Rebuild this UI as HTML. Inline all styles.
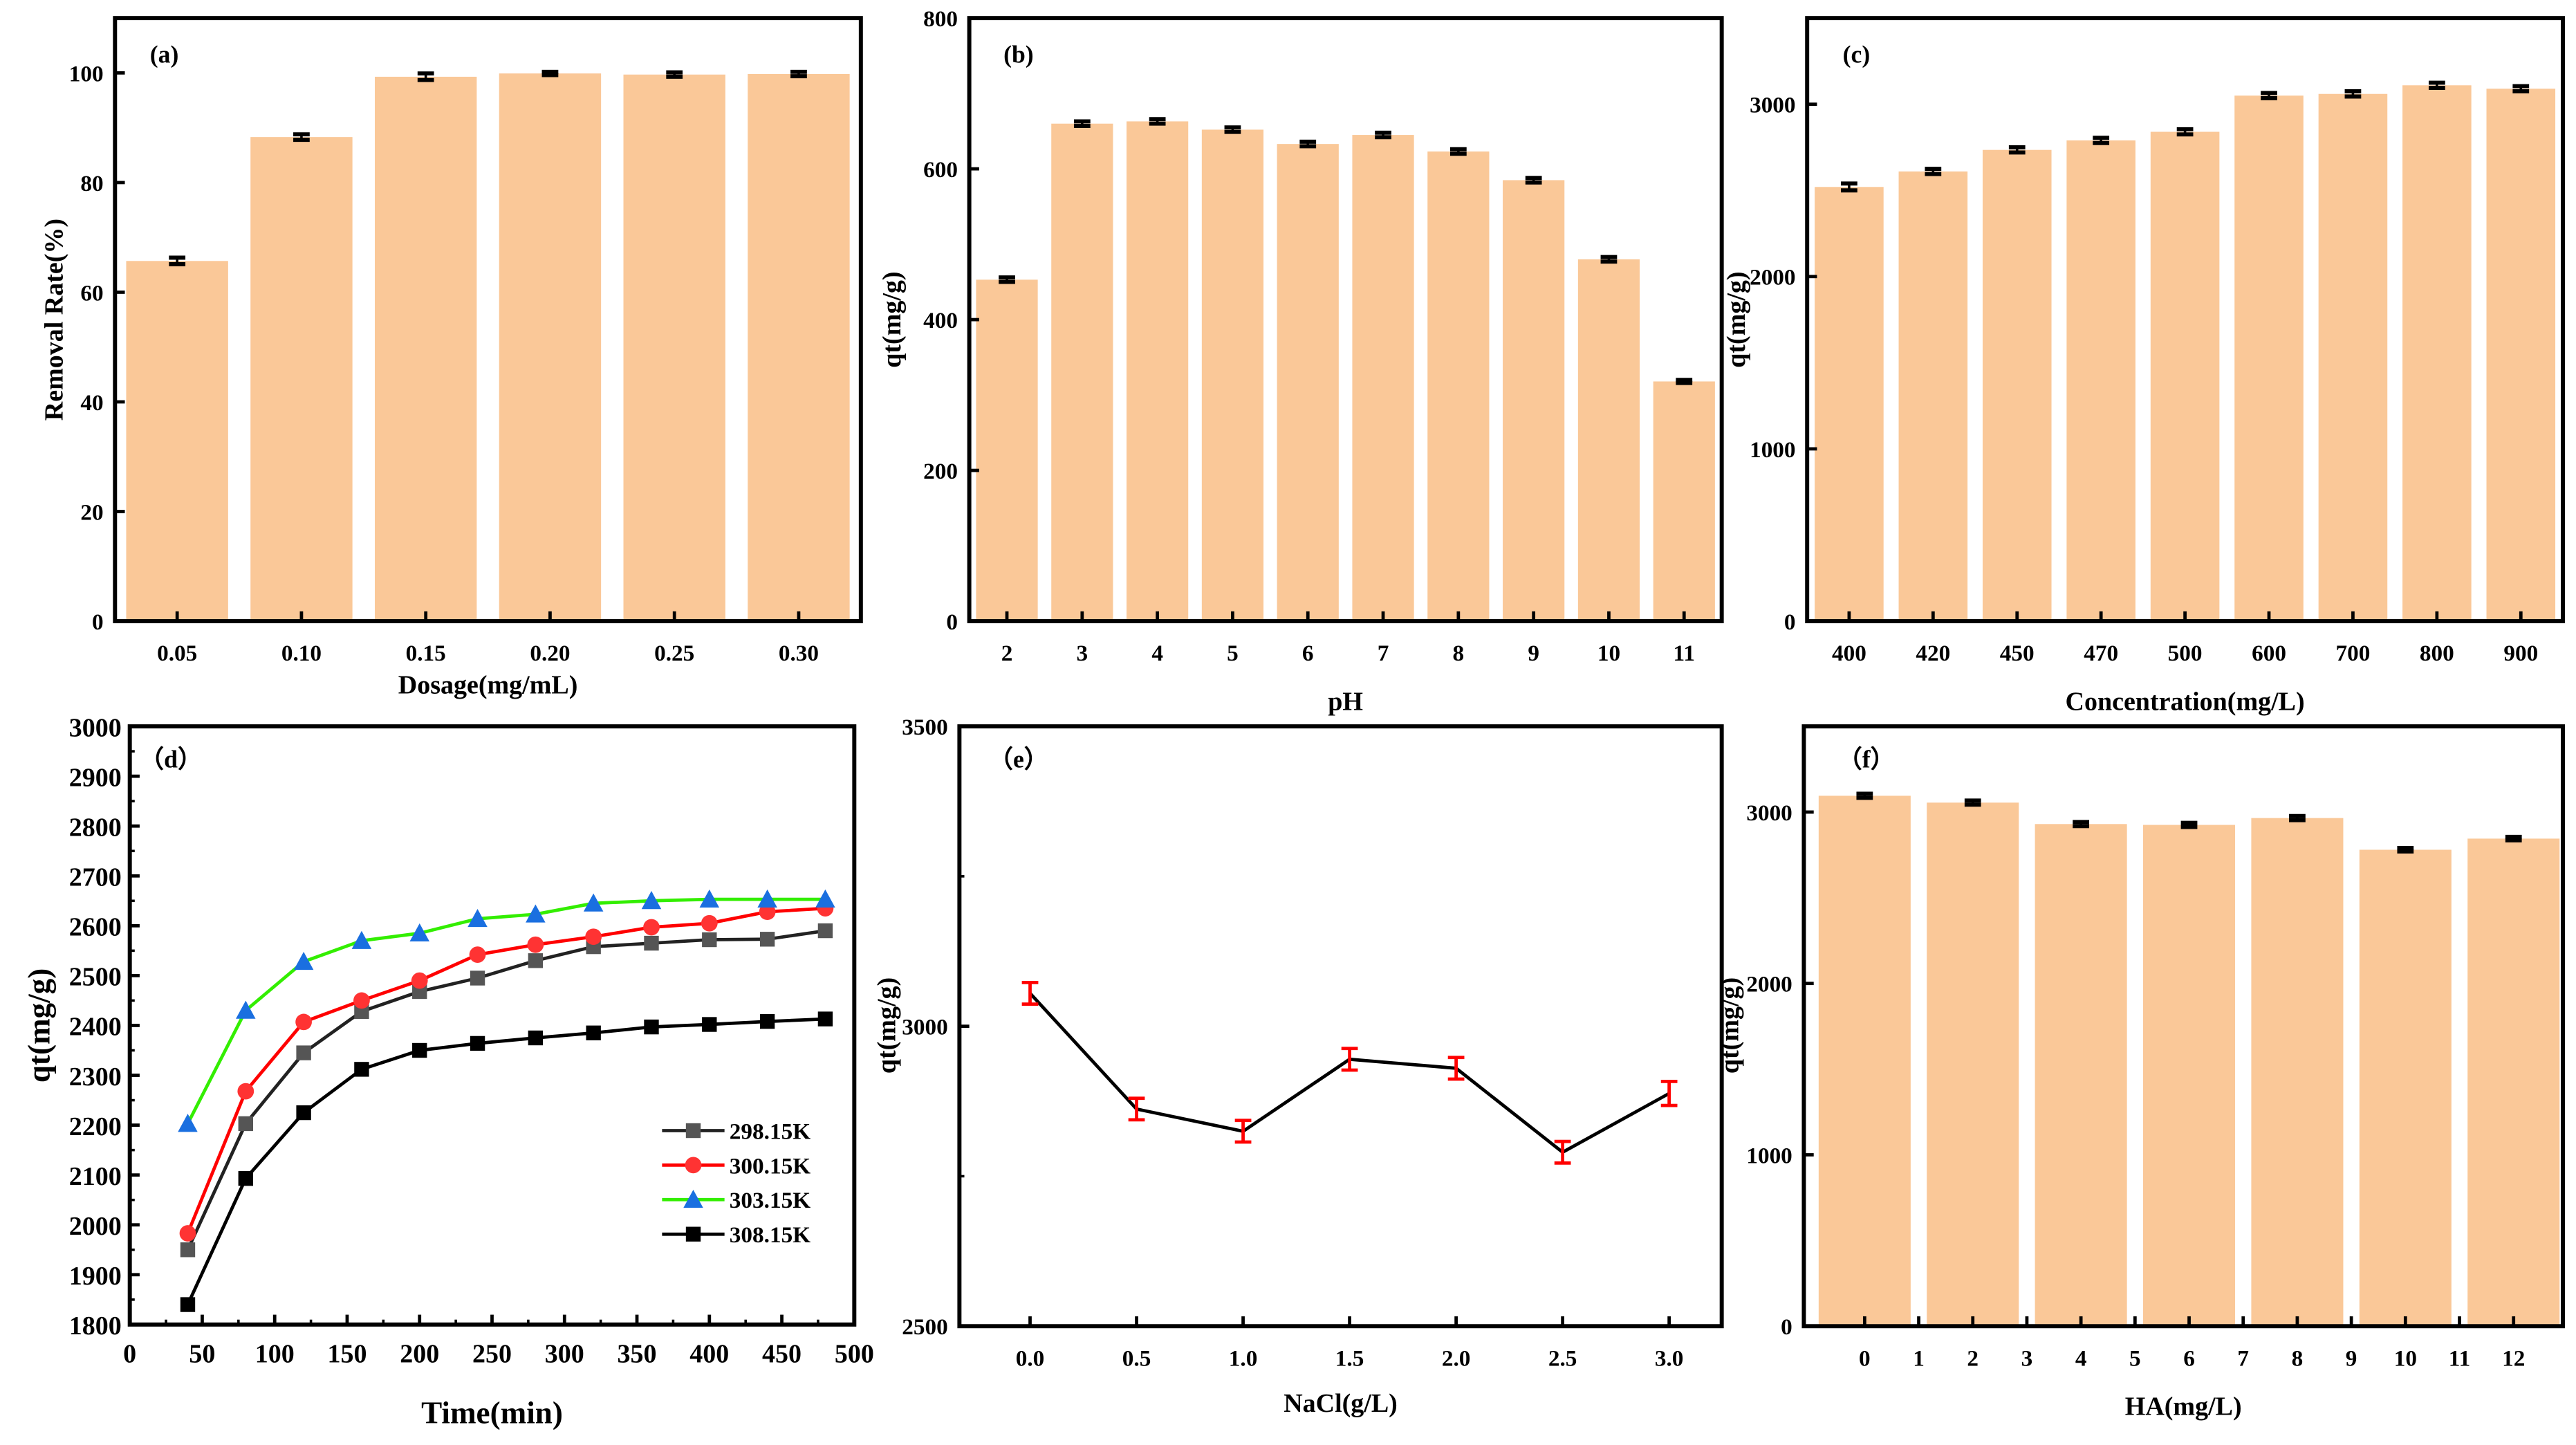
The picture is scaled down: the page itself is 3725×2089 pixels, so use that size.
<!DOCTYPE html>
<html><head><meta charset="utf-8"><style>
html,body{margin:0;padding:0;background:#fff;}
svg{display:block;font-family:"Liberation Serif",serif;font-weight:bold;}
</style></head><body>
<svg id="fig" width="3725" height="2089" viewBox="0 0 1568 879.3" preserveAspectRatio="none" xmlns="http://www.w3.org/2000/svg"></svg>
<script>
// Panel a
const aCats=["0.05","0.10","0.15","0.20","0.25","0.30"];
const aVals=[65.7,88.3,99.3,99.9,99.7,99.8];
const aErr=[0.6,0.5,0.6,0.3,0.4,0.4];
const aTicks=[0,20,40,60,80,100];
// Panel b
const bCats=["2","3","4","5","6","7","8","9","10","11"];
const bVals=[453,660,663,652,633,645,623,585,480,318];
const bErr=[3,3,3,3,3,3,3,3,3,2];
const bTicks=[0,200,400,600,800];
// Panel c
const cCats=["400","420","450","470","500","600","700","800","900"];
const cVals=[2520,2610,2735,2790,2840,3050,3060,3110,3090];
const cErr=[20,15,15,15,15,15,15,15,15];
const cTicks=[0,1000,2000,3000];
// Panel d
const dTimes=[40,80,120,160,200,240,280,320,360,400,440,480];
const d298=[1950,2203,2345,2428,2468,2495,2530,2558,2565,2572,2573,2590];
const d300=[1983,2268,2407,2450,2490,2542,2562,2578,2597,2605,2628,2635];
const d303=[2203,2430,2528,2570,2585,2614,2623,2645,2650,2653,2653,2653];
const d308=[1840,2093,2225,2312,2350,2364,2375,2385,2397,2402,2408,2413];
const dYTicks=[1800,1900,2000,2100,2200,2300,2400,2500,2600,2700,2800,2900,3000];
const dXTicks=[0,50,100,150,200,250,300,350,400,450,500];
// Panel e
const eX=[0,0.5,1.0,1.5,2.0,2.5,3.0];
const eVals=[3055,2862,2825,2945,2930,2790,2888];
const eErr=[18,18,18,18,18,18,20];
const eYTicks=[2500,3000,3500];
const eXTicks=["0.0","0.5","1.0","1.5","2.0","2.5","3.0"];
// Panel f
const fX=[0,2,4,6,8,10,12];
const fVals=[3095,3055,2930,2925,2965,2780,2845];
const fErr=[12,12,12,12,12,10,10];
const fTicks=[0,1000,2000,3000];
const fXTicks=[0,1,2,3,4,5,6,7,8,9,10,11,12];

const NS="http://www.w3.org/2000/svg";
const svg=document.getElementById('fig');
function el(tag,attrs,parent){const e=document.createElementNS(NS,tag);for(const k in attrs)e.setAttribute(k,attrs[k]);(parent||svg).appendChild(e);return e;}
function txt(s,x,y,size,anchor,parent,rot){const t=el('text',{x:x,y:y,'font-size':size,'text-anchor':anchor||'middle',fill:'#000'},parent);if(rot)t.setAttribute('transform','rotate(-90 '+x+' '+y+')');t.textContent=s;return t;}
const BAR='#FAC898';

function frame(g,x0,y0,x1,y1){const r=el('rect',{x:x0,y:y0,width:x1-x0,height:y1-y0,fill:'none',stroke:'#000','stroke-width':2.5},g);}

function errBar(g,px,ya,yb,color){
  el('line',{x1:px,x2:px,y1:ya,y2:yb,stroke:color,'stroke-width':1.5},g);
  el('line',{x1:px-5,x2:px+5,y1:ya,y2:ya,stroke:color,'stroke-width':2.5},g);
  el('line',{x1:px-5,x2:px+5,y1:yb,y2:yb,stroke:color,'stroke-width':2.5},g);
}

function barPanel(name,box,cats,vals,err,ticks,ymax,label,xtitle,ytitle,xtitleY,ytitleX){
  const g=el('g',{});
  
  
  const [x0,y0,x1,y1]=box;
  const yS=v=>y1-(v/ymax)*(y1-y0);
  const n=cats.length;const step=(x1-x0)/n;
  const xS=i=>x0+step*(i+0.5);
  for(let i=0;i<n;i++){
    const bw=step*0.82;
    const b=el('rect',{x:xS(i)-bw/2,y:yS(vals[i]),width:bw,height:y1-yS(vals[i]),fill:BAR},g);
    
    
    errBar(g,xS(i),yS(vals[i]+err[i]),yS(vals[i]-err[i]),'#000');
    el('line',{x1:xS(i),x2:xS(i),y1:y1,y2:y1-6,stroke:'#000','stroke-width':2},g);
    const t=txt(cats[i],xS(i),y1+24,14,'middle',g);
    
  }
  ticks.forEach(v=>{
    el('line',{x1:x0,x2:x0+6,y1:yS(v),y2:yS(v),stroke:'#000','stroke-width':2},g);
    const t=txt(String(v),x0-7,yS(v)+5,14,'end',g);
    
  });
  frame(g,x0,y0,x1,y1);
  const l=txt(label,x0+30,y0+27,15,'middle',g);
  const xt=txt(xtitle,(x0+x1)/2,xtitleY,16,'middle',g);
  const yt=txt(ytitle,ytitleX,(y0+y1)/2,16,'middle',g,true);
}

barPanel('panel-a-dosage',[70,11,524,378],aCats,aVals,aErr,aTicks,110,'(a)','Dosage(mg/mL)','Removal Rate(%)',422,38);
barPanel('panel-b-ph',[590,11,1048,378],bCats,bVals,bErr,bTicks,800,'(b)','pH','qt(mg/g)',432,548);
barPanel('panel-c-concentration',[1100,11,1560,378],cCats,cVals,cErr,cTicks,3500,'(c)','Concentration(mg/L)','qt(mg/g)',432,1062);

// Panel d
(function(){
  const g=el('g',{});
  
  
  const x0=79,y0=442,x1=520,y1=806;
  const xS=v=>x0+(v/500)*(x1-x0);
  const yS=v=>y1-((v-1800)/1200)*(y1-y0);
  dYTicks.forEach(v=>{
    el('line',{x1:x0,x2:x0+6,y1:yS(v),y2:yS(v),stroke:'#000','stroke-width':2},g);
    if(v<3000) el('line',{x1:x0,x2:x0+3,y1:yS(v+50),y2:yS(v+50),stroke:'#000','stroke-width':1.5},g);
    const t=txt(String(v),x0-5,yS(v)+6,16,'end',g);
    
  });
  dXTicks.forEach(v=>{
    el('line',{x1:xS(v),x2:xS(v),y1:y1,y2:y1-6,stroke:'#000','stroke-width':2},g);
    if(v<500) el('line',{x1:xS(v+25),x2:xS(v+25),y1:y1,y2:y1-3,stroke:'#000','stroke-width':1.5},g);
    const t=txt(String(v),xS(v),y1+23,16,'middle',g);
    
  });
  const series=[
    {name:'298.15K',data:d298,line:'#222',fill:'#555',m:'square'},
    {name:'300.15K',data:d300,line:'#f00',fill:'#f33',m:'circle'},
    {name:'303.15K',data:d303,line:'#33ee00',fill:'#1a6fe0',m:'tri'},
    {name:'308.15K',data:d308,line:'#000',fill:'#000',m:'square'}];
  function marker(m,x,y,fill,parent){
    if(m==='square') return el('rect',{x:x-4.5,y:y-4.5,width:9,height:9,fill:fill},parent);
    if(m==='circle') return el('circle',{cx:x,cy:y,r:5,fill:fill},parent);
    return el('polygon',{points:(x)+','+(y-6)+' '+(x-6)+','+(y+5)+' '+(x+6)+','+(y+5),fill:fill},parent);
  }
  series.forEach((s,si)=>{
    const sg=el('g',{},g);
    
    
    const pts=dTimes.map((t,i)=>xS(t)+','+yS(s.data[i])).join(' ');
    el('polyline',{points:pts,fill:'none',stroke:s.line,'stroke-width':2},sg);
    dTimes.forEach((t,i)=>{const mk=marker(s.m,xS(t),yS(s.data[i]),s.fill,sg);
      });
    const ly=688+si*21;
    const lg=el('g',{},g);
    
    
    el('line',{x1:403,x2:441,y1:ly,y2:ly,stroke:s.line,'stroke-width':2},lg);
    marker(s.m,422,ly,s.fill,lg);
    txt(s.name,444,ly+5,14,'start',lg);
  });
  frame(g,x0,y0,x1,y1);
  const l=txt('（d）',104,467,15,'middle',g);
  const xt=txt('Time(min)',(x0+x1)/2,866,19,'middle',g);
  const yt=txt('qt(mg/g)',30,624,19,'middle',g,true);
})();

// Panel e
(function(){
  const g=el('g',{});
  
  
  const x0=584,y0=442,x1=1048,y1=807;
  const xS=v=>627+(v/3)*(1016-627);
  const yS=v=>y1-((v-2500)/1000)*(y1-y0);
  eYTicks.forEach(v=>{
    el('line',{x1:x0,x2:x0+6,y1:yS(v),y2:yS(v),stroke:'#000','stroke-width':2},g);
    const t=txt(String(v),x0-7,yS(v)+5,14,'end',g);
    
  });
  [2750,3250].forEach(v=>el('line',{x1:x0,x2:x0+3,y1:yS(v),y2:yS(v),stroke:'#000','stroke-width':1.5},g));
  eXTicks.forEach(s=>{
    const x=xS(parseFloat(s));
    el('line',{x1:x,x2:x,y1:y1,y2:y1-6,stroke:'#000','stroke-width':2},g);
    const t=txt(s,x,y1+24,14,'middle',g);
    
  });
  const pts=eX.map((x,i)=>xS(x)+','+yS(eVals[i])).join(' ');
  const pl=el('polyline',{points:pts,fill:'none',stroke:'#000','stroke-width':2},g);
  
  eX.forEach((x,i)=>{
    const eg=el('g',{},g);
    
    
    const px=xS(x),ya=yS(eVals[i]+eErr[i]),yb=yS(eVals[i]-eErr[i]);
    el('line',{x1:px,x2:px,y1:ya,y2:yb,stroke:'#f00','stroke-width':2},eg);
    el('line',{x1:px-5,x2:px+5,y1:ya,y2:ya,stroke:'#f00','stroke-width':2},eg);
    el('line',{x1:px-5,x2:px+5,y1:yb,y2:yb,stroke:'#f00','stroke-width':2},eg);
  });
  frame(g,x0,y0,x1,y1);
  const l=txt('（e）',620,467,15,'middle',g);
  const xt=txt('NaCl(g/L)',(x0+x1)/2,859,16,'middle',g);
  const yt=txt('qt(mg/g)',545,624,16,'middle',g,true);
})();

// Panel f
(function(){
  const g=el('g',{});
  
  
  const x0=1098,y0=442,x1=1560,y1=807;
  const xS=v=>1135+(v/12)*(1530-1135);
  const yS=v=>y1-(v/3500)*(y1-y0);
  fX.forEach((x,i)=>{
    const bw=56;
    const b=el('rect',{x:xS(x)-bw/2,y:yS(fVals[i]),width:bw,height:y1-yS(fVals[i]),fill:BAR},g);
    
    
    errBar(g,xS(x),yS(fVals[i]+fErr[i]),yS(fVals[i]-fErr[i]),'#000');
  });
  fXTicks.forEach(v=>{
    el('line',{x1:xS(v),x2:xS(v),y1:y1,y2:y1-6,stroke:'#000','stroke-width':2},g);
    const t=txt(String(v),xS(v),y1+24,14,'middle',g);
    
  });
  fTicks.forEach(v=>{
    el('line',{x1:x0,x2:x0+6,y1:yS(v),y2:yS(v),stroke:'#000','stroke-width':2},g);
    const t=txt(String(v),x0-7,yS(v)+5,14,'end',g);
    
  });
  frame(g,x0,y0,x1,y1);
  const l=txt('（f）',1136,467,15,'middle',g);
  const xt=txt('HA(mg/L)',(x0+x1)/2,861,16,'middle',g);
  const yt=txt('qt(mg/g)',1058,624,16,'middle',g,true);
})();
</script>
</body></html>
